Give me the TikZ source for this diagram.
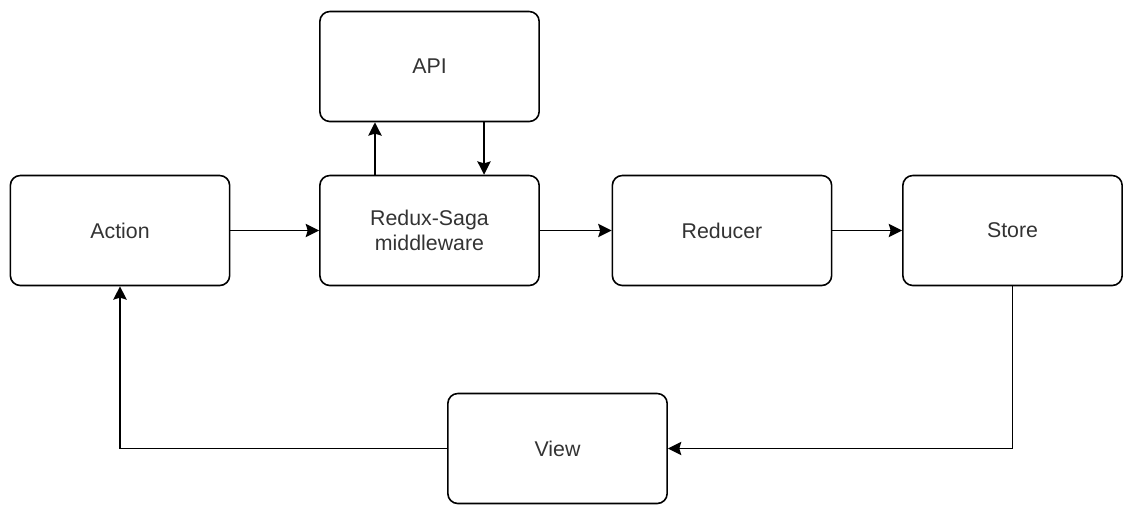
\documentclass[tikz,border=0pt]{standalone}
\usepackage{fontspec}
\setmainfont{Liberation Sans}
\usetikzlibrary{arrows.meta}
\definecolor{labelgray}{RGB}{51,51,51}
\begin{document}
\begin{tikzpicture}[x=0.75pt,y=0.75pt,yscale=-1,xscale=1,
  stagebox/.style={draw, rounded corners=7.5pt, line width=1.2pt, minimum width=164.5pt, minimum height=82.5pt, inner sep=0pt, align=center, text=labelgray, font=\fontsize{16}{19}\selectfont},
  flow/.style={line width=1.2pt, -{Stealth[length=10pt,width=10pt,inset=1.5pt]}}]
\useasboundingbox (0,0) rectangle (1123,504);

%Rounded Rect nodes
\node [stagebox] (action) at (120,230.5) {Action};
\node [stagebox] (saga) at (429.5,230.5) {Redux-Saga\\middleware};
\node [stagebox] (reducer) at (722,230.5) {Reducer};
\node [stagebox] (store) at (1012.5,230.5) {Store};
\node [stagebox] (api) at (429.5,66.5) {API};
\node [stagebox] (view) at (557.5,448.5) {View};

%Straight Lines
\draw [flow] (action) -- (saga);
\draw [flow] (saga) -- (reducer);
\draw [flow] (reducer) -- (store);
%Saga to API and back
\draw [flow] ([xshift=-40.9pt]saga.north) -- ([xshift=-40.9pt]api.south);
\draw [flow] ([xshift=40.9pt]api.south) -- ([xshift=40.9pt]saga.north);
%Elbow Lines
\draw [flow] (store.south) |- (view.east);
\draw [flow] (view.west) -| (action.south);
\end{tikzpicture}
\end{document}
